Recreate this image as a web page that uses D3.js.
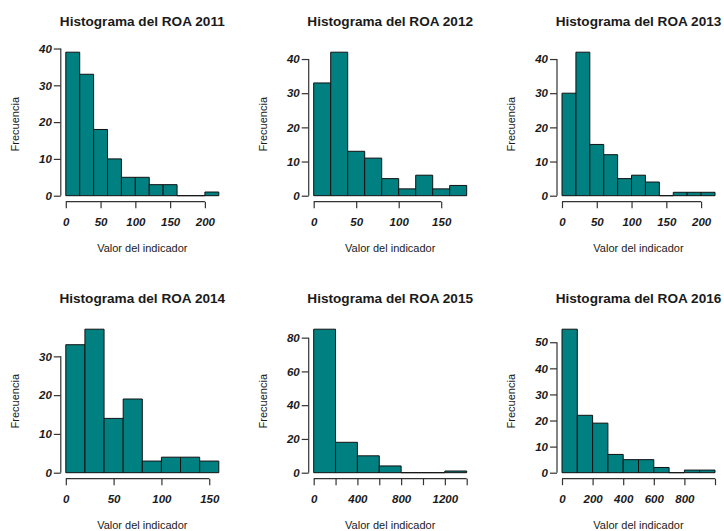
<!DOCTYPE html>
<html>
<head>
<meta charset="utf-8">
<script src="https://cdn.jsdelivr.net/npm/d3@7"></script>
<style>
  html, body { margin: 0; padding: 0; background: #fff; }
  svg { display: block; }
  text { font-family: "Liberation Sans", Arial, Helvetica, sans-serif; fill: #1a1a1a; }
</style>
</head>
<body>
<svg id="chart" width="724" height="531"></svg>
<script>
// ---- data ----
const years = [2011, 2012, 2013, 2014, 2015, 2016];
const binWidths = [20, 20, 20, 20, 200, 100];
const counts2011 = [39, 33, 18, 10, 5, 5, 3, 3, 0, 0, 1];
const counts2012 = [33, 42, 13, 11, 5, 2, 6, 2, 3];
const counts2013 = [30, 42, 15, 12, 5, 6, 4, 0, 1, 1, 1];
const counts2014 = [33, 37, 14, 19, 3, 4, 4, 3];
const counts2015 = [85, 18, 10, 4, 0, 0, 1];
const counts2016 = [55, 22, 19, 7, 5, 5, 2, 0, 1, 1];
const allCounts = [counts2011, counts2012, counts2013, counts2014, counts2015, counts2016];
const yTicks = [
  [0, 10, 20, 30, 40], [0, 10, 20, 30, 40], [0, 10, 20, 30, 40],
  [0, 10, 20, 30], [0, 20, 40, 60, 80], [0, 10, 20, 30, 40, 50]
];
const xTicks = [
  [0, 50, 100, 150, 200], [0, 50, 100, 150], [0, 50, 100, 150, 200],
  [0, 50, 100, 150], [0, 200, 400, 600, 800, 1000, 1200, 1400], [0, 200, 400, 600, 800, 1000]
];
const xTickLabels = [
  [0, 50, 100, 150, 200], [0, 50, 100, 150], [0, 50, 100, 150, 200],
  [0, 50, 100, 150], [0, 400, 800, 1200], [0, 200, 400, 600, 800]
];
const titlePrefix = "Histograma del ROA ";
const yLabel = "Frecuencia";
const xLabel = "Valor del indicador";

// ---- layout ----
const colX0 = [65.8, 313.7, 562];
const rowY0 = [195.7, 472.7];
const spanX = 153;
const spanY = 143.5;
const fill = "#008080";

const svg = d3.select("#chart");

years.forEach((yr, i) => {
  const counts = allCounts[i];
  const bw = binWidths[i];
  const x0 = colX0[i % 3];
  const y0 = rowY0[Math.floor(i / 3)];
  const x = d3.scaleLinear().domain([0, counts.length * bw]).range([x0, x0 + spanX]);
  const y = d3.scaleLinear().domain([0, d3.max(counts)]).range([y0, y0 - spanY]);
  const g = svg.append("g");

  const plotCx = x0 - 6 + 165 / 2;
  const axX = x0 - 5;
  const axY = y0 + 6;

  // bars (as closed paths so that empty bins still show as a line on the baseline)
  g.selectAll("path.bar").data(counts).join("path")
    .attr("class", "bar")
    .attr("d", (d, k) => {
      const p = d3.path();
      const xa = x(k * bw), xb = x((k + 1) * bw), yt = y(d), yb = y(0);
      p.moveTo(xa, yb); p.lineTo(xa, yt); p.lineTo(xb, yt); p.lineTo(xb, yb); p.closePath();
      return p.toString();
    })
    .attr("fill", fill)
    .attr("stroke", "#111")
    .attr("stroke-width", 1);

  // y axis
  const yt = yTicks[i];
  const ya = g.append("g").attr("transform", `translate(${axX},0)`)
    .call(d3.axisLeft(y).tickValues(yt).tickSize(7).tickPadding(2).tickSizeOuter(0));
  ya.select(".domain").remove();
  ya.append("line").attr("x1", 0).attr("x2", 0)
    .attr("y1", y(yt[0])).attr("y2", y(yt[yt.length - 1]))
    .attr("stroke", "#333").attr("stroke-width", 1.2);
  ya.selectAll(".tick line").attr("stroke", "#333").attr("stroke-width", 1.2);
  ya.selectAll(".tick text")
    .attr("fill", "#1a1a1a")
    .style("font-size", "11.5px").style("font-weight", "bold").style("font-style", "italic")
    .style("font-family", "'Liberation Sans', Arial, sans-serif");

  // x axis
  const xt = xTicks[i];
  const xl = xTickLabels[i];
  const xa = g.append("g").attr("transform", `translate(0,${axY})`)
    .call(d3.axisBottom(x).tickValues(xt).tickSize(6.5).tickPadding(10).tickSizeOuter(0)
      .tickFormat(d => xl.includes(d) ? String(d) : ""));
  xa.select(".domain").remove();
  xa.append("line").attr("y1", 0).attr("y2", 0)
    .attr("x1", x(xt[0])).attr("x2", x(xt[xt.length - 1]))
    .attr("stroke", "#333").attr("stroke-width", 1.2);
  xa.selectAll(".tick line").attr("stroke", "#333").attr("stroke-width", 1.2);
  xa.selectAll(".tick text")
    .attr("fill", "#1a1a1a")
    .style("font-size", "11.5px").style("font-weight", "bold").style("font-style", "italic")
    .style("font-family", "'Liberation Sans', Arial, sans-serif");

  // title
  g.append("text")
    .attr("x", plotCx).attr("y", y0 - 170.2)
    .attr("text-anchor", "middle")
    .style("font-size", "13.6px").style("font-weight", "bold")
    .text(titlePrefix + yr);

  // x label
  g.append("text")
    .attr("x", plotCx).attr("y", axY + 49.8)
    .attr("text-anchor", "middle")
    .style("font-size", "11px")
    .text(xLabel);

  // y label
  g.append("text")
    .attr("transform", `translate(${axX - 42},${y0 - 71.5}) rotate(-90)`)
    .attr("text-anchor", "middle")
    .style("font-size", "11px")
    .text(yLabel);
});
</script>
</body>
</html>
